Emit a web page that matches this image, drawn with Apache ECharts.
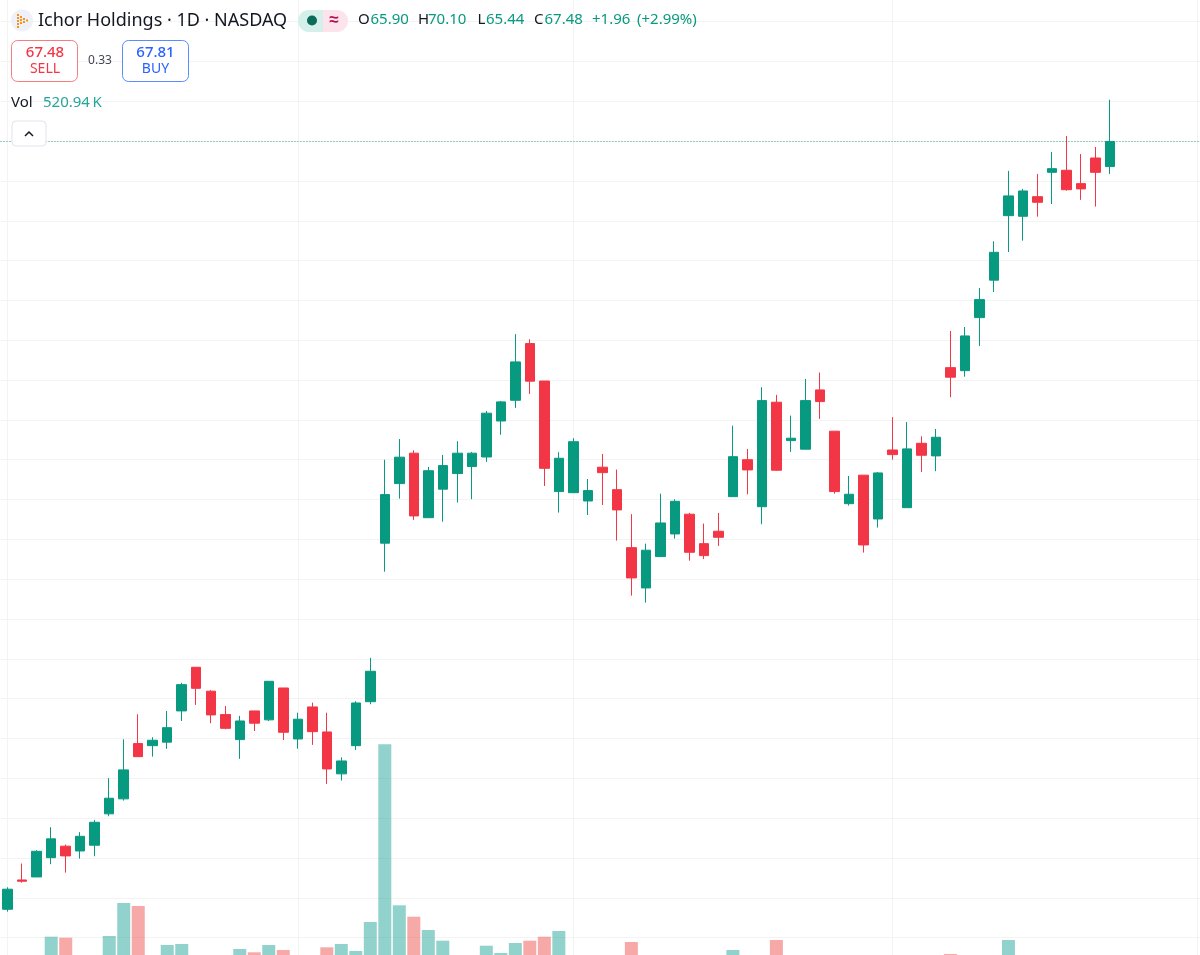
<!DOCTYPE html>
<html>
<head>
<meta charset="utf-8">
<title>Ichor Holdings</title>
<style>
  html, body { margin: 0; padding: 0; background: #ffffff; }
  #chart { width: 1200px; height: 955px; }
</style>
<script src="https://cdn.jsdelivr.net/npm/echarts@6/dist/echarts.min.js"></script>
</head>
<body>
<div id="chart"></div>
<script>
var openVals = [
    19.28, 21.12, 21.31, 22.52, 23.24, 22.94, 23.30, 25.27, 26.21, 29.68,
    29.55, 29.77, 31.73, 34.47, 32.97, 31.50, 29.93, 31.73, 31.17, 33.17,
    29.97, 31.98, 30.41, 27.78, 29.55, 32.31, 42.26, 46.00, 47.91, 43.86,
    45.65, 46.63, 47.07, 47.67, 49.93, 51.23, 54.79, 52.44, 45.50, 45.43,
    44.91, 47.03, 45.62, 41.98, 39.45, 41.42, 42.84, 44.08, 42.23, 43.01,
    45.18, 47.50, 44.55, 51.11, 48.70, 48.16, 51.88, 49.29, 44.74, 46.53,
    43.78, 48.11, 44.49, 48.53, 47.74, 53.28, 53.09, 56.42, 58.77, 62.82,
    62.78, 64.01, 65.54, 65.67, 64.83, 66.44, 65.90
];
var closeVals = [
    20.54, 21.04, 22.92, 23.70, 22.63, 23.86, 24.74, 26.25, 28.03, 28.86,
    29.89, 30.68, 33.38, 33.15, 31.48, 30.64, 31.10, 30.96, 33.59, 30.39,
    31.21, 30.43, 28.09, 28.59, 32.23, 34.22, 45.31, 47.66, 43.97, 46.81,
    47.13, 47.91, 47.91, 50.42, 51.13, 53.64, 52.43, 46.96, 47.59, 48.63,
    45.56, 46.69, 44.35, 40.08, 41.82, 43.53, 44.89, 41.69, 41.48, 42.63,
    47.69, 46.86, 51.21, 46.84, 48.85, 51.21, 51.15, 45.50, 45.33, 42.15,
    46.67, 47.82, 48.18, 47.78, 48.91, 52.68, 55.27, 57.55, 60.52, 64.06,
    64.37, 63.66, 65.77, 64.45, 64.50, 65.54, 67.48
];
var lowVals = [
    19.13, 20.95, 21.31, 22.11, 21.58, 22.46, 22.61, 25.12, 26.10, 28.86,
    28.86, 29.35, 31.10, 32.11, 30.96, 30.58, 28.72, 30.47, 31.10, 29.91,
    29.36, 29.60, 27.15, 27.36, 29.28, 32.15, 40.47, 45.06, 43.72, 43.86,
    43.61, 44.81, 45.02, 47.36, 49.07, 50.75, 51.63, 45.85, 44.18, 45.43,
    44.03, 44.66, 42.42, 38.97, 38.53, 41.42, 42.55, 41.16, 41.27, 42.09,
    45.18, 45.33, 43.45, 46.80, 47.99, 48.16, 50.06, 45.37, 44.62, 41.67,
    43.24, 47.50, 44.49, 46.73, 46.78, 51.42, 52.71, 54.64, 58.03, 60.54,
    61.25, 62.76, 63.55, 64.39, 63.81, 63.39, 65.44
];
var highVals = [
    20.66, 22.15, 22.99, 24.43, 23.34, 24.12, 24.89, 27.51, 29.95, 31.52,
    30.08, 31.73, 33.49, 34.47, 33.03, 32.04, 31.42, 31.73, 33.59, 33.17,
    31.62, 32.25, 31.62, 28.82, 32.34, 35.06, 47.50, 48.80, 48.09, 47.05,
    47.80, 48.66, 47.99, 50.56, 51.19, 55.38, 55.06, 52.44, 47.97, 48.85,
    46.29, 47.86, 46.88, 44.08, 42.23, 45.37, 45.02, 44.16, 43.49, 44.16,
    49.64, 48.18, 52.05, 51.57, 50.27, 52.57, 52.97, 49.29, 46.48, 46.53,
    46.73, 50.17, 49.87, 48.97, 49.43, 55.58, 55.83, 58.28, 61.21, 65.63,
    64.50, 65.44, 66.82, 67.82, 66.69, 67.13, 70.10
];
// thousands of shares. null = the bar top is below the cropped edge of the picture
var volumeVals = [
    null, null, null, 783, 773, null, null, 790, 1120, 1090,
    null, 700, 710, null, null, null, 660, 627, 700, 650,
    null, null, 677, 710, 640, 930, 2707, 1097, 983, 850,
    743, null, null, 693, 620, 720, 743, 783, 840, null,
    null, null, null, 730, null, null, null, null, null, null,
    650, null, null, 750, null, null, null, null, null, null,
    null, null, null, null, null, 610, null, null, null, 750,
    null, null, null, null, null, null, 520.94
];
var monthStarts = [0, 20, 39, 61, 82];
var lastPrice = 67.48;

var UP = "#089981";
var DOWN = "#f23645";
var FONT = '"Noto Sans", sans-serif';

// six empty sessions to the right of the last candle
var categories = [];
for (var i = 0; i < 83; i++) {
    categories.push(String(i + 1));
}

var candleData = openVals.map(function (o, i) {
    return [o, closeVals[i], lowVals[i], highVals[i]];
});

var volumeData = volumeVals.map(function (v, i) {
    return {
        value: v,
        itemStyle: { color: closeVals[i] >= openVals[i] ? "rgba(38,166,154,0.5)" : "rgba(239,83,80,0.5)" },
    };
});

function label(x, y, text, fill, size, extra) {
    var style = { text: text, fill: fill, font: (extra && extra.weight ? extra.weight + " " : "") + size + "px " + FONT,
        textAlign: (extra && extra.align) || "left", textVerticalAlign: "middle" };
    return { type: "text", x: x, y: y, z: 100, style: style };
}

function box(x, y, w, h, r, fill, stroke) {
    return { type: "rect", z: 99, shape: { x: x, y: y, width: w, height: h, r: r },
        style: { fill: fill, stroke: stroke, lineWidth: 1 } };
}

function header() {
    var items = [];
    // logo
    items.push({ type: "circle", z: 99, shape: { cx: 22, cy: 20.5, r: 11 }, style: { fill: "#eef1f8" } });
    [[17, 14, 13], [20, 16, 9], [23, 18, 5], [26, 19.5, 2]].forEach(function (c) {
        for (var k = 0; k < c[2]; k += 3) {
            items.push({ type: "rect", z: 100, shape: { x: c[0], y: c[1] + k, width: 2, height: 2 }, style: { fill: "#f7931a" } });
        }
    });
    items.push(label(38, 21, "Ichor Holdings \u00b7 1D \u00b7 NASDAQ", "#131722", 18));

    // market status pill
    items.push({ type: "rect", z: 99, shape: { x: 298, y: 10, width: 26, height: 22, r: [11, 0, 0, 11] }, style: { fill: "#d5efea" } });
    items.push({ type: "rect", z: 99, shape: { x: 323, y: 10, width: 25, height: 22, r: [0, 11, 11, 0] }, style: { fill: "#fde3ec" } });
    items.push({ type: "circle", z: 100, shape: { cx: 312, cy: 20.5, r: 5 }, style: { fill: "#0a6b58" } });
    items.push(label(334, 20, "\u2248", "#b0134f", 17, { align: "center", weight: "bold" }));

    // OHLC readout
    [[358, "O", 370.5, "65.90"], [418, "H", 428, "70.10"], [477.5, "L", 486, "65.44"], [534, "C", 544.5, "67.48"]].forEach(function (r) {
        items.push(label(r[0], 20, r[1], "#131722", 15));
        items.push(label(r[2], 20, r[3], UP, 15));
    });
    items.push(label(592, 20, "+1.96", UP, 15));
    items.push(label(637, 20, "(+2.99%)", UP, 15));

    // sell / buy
    items.push(box(11.5, 40.5, 66, 41, 6, "#ffffff", "#f77c80"));
    items.push(label(45, 52.5, "67.48", DOWN, 15, { align: "center", weight: "500" }));
    items.push(label(45, 69, "SELL", DOWN, 14, { align: "center" }));
    items.push(label(100, 61, "0.33", "#434651", 12, { align: "center" }));
    items.push(box(122.5, 40.5, 66, 41, 6, "#ffffff", "#5b8cff"));
    items.push(label(155.5, 52.5, "67.81", "#2962ff", 15, { align: "center", weight: "500" }));
    items.push(label(155.5, 69, "BUY", "#2962ff", 14, { align: "center" }));

    // volume legend
    items.push(label(11, 102.5, "Vol", "#131722", 15));
    items.push(label(43, 102.5, "520.94\u2009K", "#26a69a", 15));

    // collapse button
    items.push(box(12, 121, 34, 25, 4, "#ffffff", "#e0e3eb"));
    items.push({ type: "polyline", z: 100, shape: { points: [[25, 136], [29, 132], [33, 136]] },
        style: { stroke: "#131722", lineWidth: 1.5, fill: null } });
    return items;
}

function initChart() {
    var myChart = echarts.init(document.getElementById("chart"));

    var option = {
        animation: false,
        backgroundColor: "#ffffff",
        graphic: { elements: header() },
        // the plot runs past the window edges, the page is a crop of a larger chart
        grid: [
            { left: 0.45, width: 1203.8, top: -18.2, height: 995.65, outerBoundsMode: "none" },
            { left: 0.45, width: 1203.8, top: 700, height: 255, outerBoundsMode: "none" },
        ],
        xAxis: [
            {
                type: "category",
                data: categories,
                gridIndex: 0,
                axisLine: { show: false },
                axisTick: { show: false },
                axisLabel: { show: false },
                splitLine: {
                    show: true,
                    alignWithLabel: true,
                    interval: function (i) {
                        return monthStarts.indexOf(i) >= 0;
                    },
                    lineStyle: { color: "#f3f3f3", width: 1 },
                },
            },
            {
                type: "category",
                data: categories,
                gridIndex: 1,
                axisLine: { show: false },
                axisTick: { show: false },
                axisLabel: { show: false },
                splitLine: { show: false },
            },
        ],
        yAxis: [
            {
                type: "value",
                gridIndex: 0,
                min: 15,
                max: 77.5,
                interval: 2.5,
                axisLine: { show: false },
                axisTick: { show: false },
                axisLabel: { show: false },
                splitLine: { show: true, lineStyle: { color: "#f3f3f3", width: 1 } },
            },
            {
                type: "value",
                gridIndex: 1,
                min: 600,
                max: 3150,
                axisLine: { show: false },
                axisTick: { show: false },
                axisLabel: { show: false },
                splitLine: { show: false },
            },
        ],
        series: [
            {
                name: "Vol",
                type: "bar",
                xAxisIndex: 1,
                yAxisIndex: 1,
                barWidth: 13,
                data: volumeData,
            },
            {
                // only here to carry the last price line
                name: "Last",
                type: "line",
                xAxisIndex: 0,
                yAxisIndex: 0,
                showSymbol: false,
                lineStyle: { opacity: 0 },
                data: [lastPrice],
                markLine: {
                    silent: true,
                    symbol: "none",
                    label: { show: false },
                    lineStyle: { color: "#3fa596", type: [1, 2], width: 1, opacity: 1 },
                    data: [{ yAxis: lastPrice }],
                },
            },
            {
                name: "Ichor Holdings",
                type: "candlestick",
                xAxisIndex: 0,
                yAxisIndex: 0,
                barWidth: 10,
                z: 5,
                itemStyle: {
                    color: UP,
                    color0: DOWN,
                    borderColor: UP,
                    borderColor0: DOWN,
                    borderWidth: 1,
                },
                data: candleData,
            },
        ],
    };

    myChart.setOption(option);
    window.addEventListener("resize", function () {
        myChart.resize();
    });
}

initChart();
</script>
</body>
</html>
